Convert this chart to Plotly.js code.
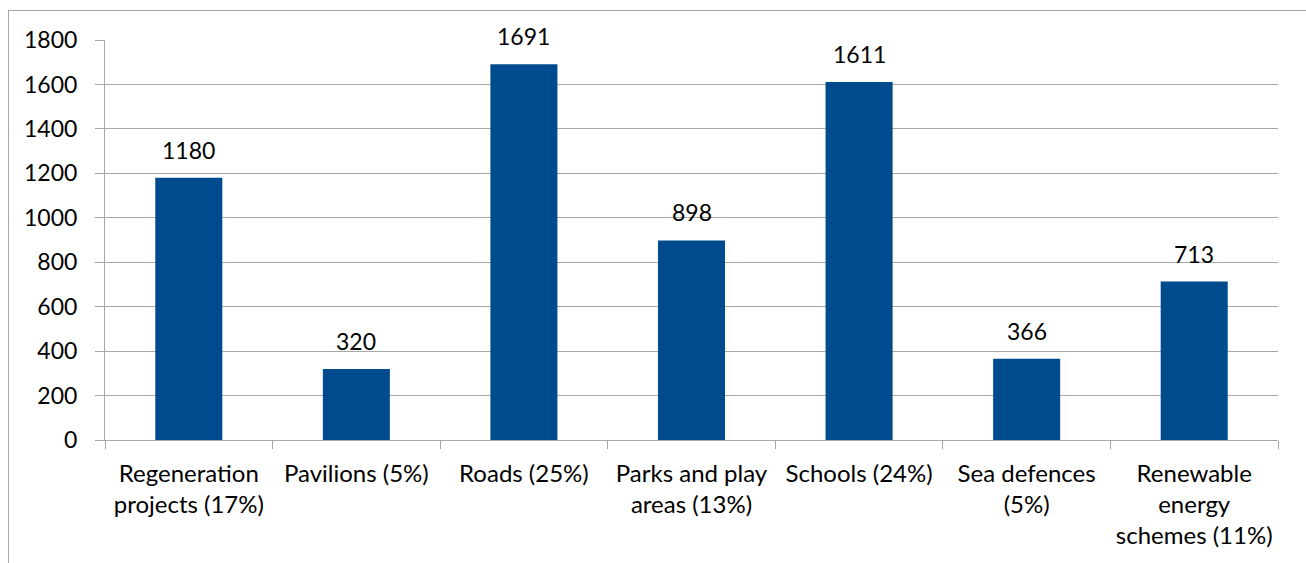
<!DOCTYPE html>
<html>
<head>
<meta charset="utf-8">
<script src="https://cdn.plot.ly/plotly-3.0.1.min.js"></script>
<style>
html,body{margin:0;padding:0;background:#fff;overflow:hidden;}
#frame{position:absolute;left:8px;top:10px;width:1400px;height:700px;border-left:1px solid #a6a6a6;border-top:1px solid #a6a6a6;pointer-events:none;}
#chart{position:absolute;left:0;top:0;width:1306px;height:563px;}
</style>
</head>
<body>
<div id="chart"></div>
<div id="frame"></div>
<script>
const categories = [
  "Regeneration<br>projects (17%)",
  "Pavilions (5%)",
  "Roads (25%)",
  "Parks and play<br>areas (13%)",
  "Schools (24%)",
  "Sea defences<br>(5%)",
  "Renewable<br>energy<br>schemes (11%)"
];
const values = [1180, 320, 1691, 898, 1611, 366, 713];
const yTicks = [0, 200, 400, 600, 800, 1000, 1200, 1400, 1600, 1800];

const fontFam = "Lato, 'Open Sans', 'Liberation Sans', sans-serif";
const fsize = 23;

const trace = {
  type: 'bar',
  x: categories,
  y: values,
  marker: {color: '#004B8D'},
  width: 0.4,
  hoverinfo: 'none'
};

const annotations = categories.map((c, i) => ({
  x: c, y: values[i], xref: 'x', yref: 'y',
  text: String(values[i]),
  showarrow: false,
  yanchor: 'bottom',
  yshift: 12,
  font: {family: fontFam, size: fsize, color: '#000'}
}));

const layout = {
  width: 1306, height: 563,
  margin: {l: 105, r: 28, t: 40, b: 123},
  paper_bgcolor: '#fff', plot_bgcolor: '#fff',
  showlegend: false,
  font: {family: fontFam, size: fsize, color: '#000'},
  xaxis: {
    type: 'category',
    showline: true, linecolor: '#a6a6a6', linewidth: 1,
    ticks: 'outside', tickson: 'boundaries', ticklen: 8, tickcolor: '#a6a6a6',
    ticklabelstandoff: 12,
    showgrid: false,
    tickfont: {family: fontFam, size: 24, color: '#000'},
    automargin: false,
    fixedrange: true
  },
  yaxis: {
    range: [0, 1800],
    tickvals: yTicks,
    ticktext: yTicks.map(String),
    showline: true, linecolor: '#a6a6a6', linewidth: 1,
    showgrid: true, gridcolor: '#a6a6a6', gridwidth: 1,
    ticks: 'outside', ticklen: 9, tickcolor: '#a6a6a6',
    ticklabelstandoff: 13,
    tickfont: {family: fontFam, size: fsize, color: '#000'},
    zeroline: false,
    automargin: false,
    fixedrange: true
  },
  annotations: annotations
};

Plotly.newPlot('chart', [trace], layout, {displayModeBar: false, staticPlot: true});
</script>
</body>
</html>
